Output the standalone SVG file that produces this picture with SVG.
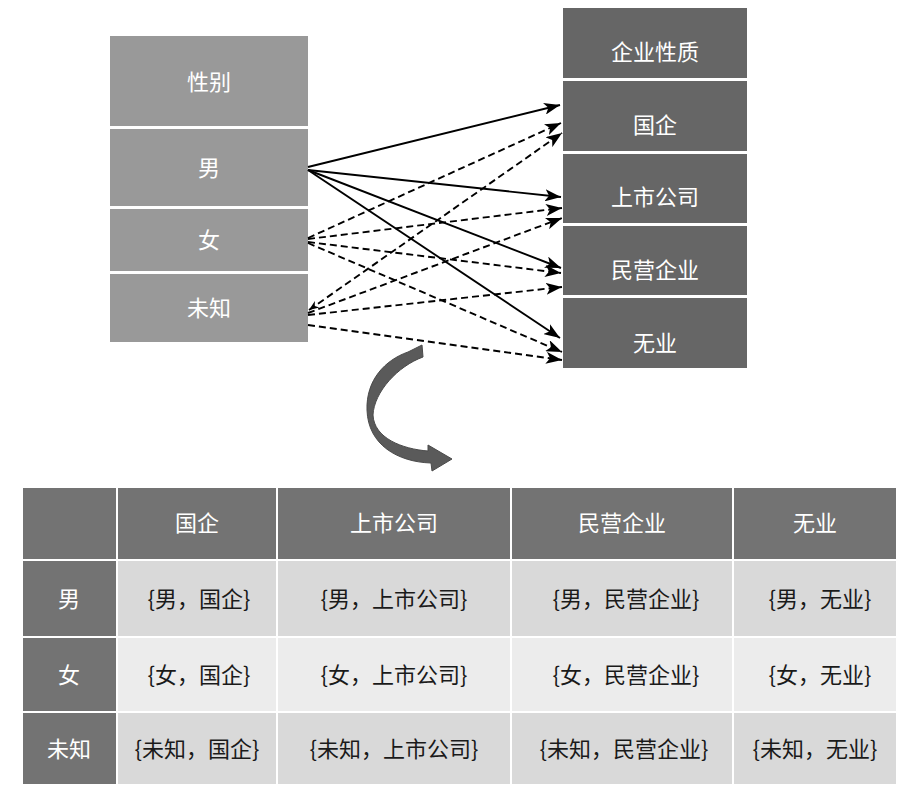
<svg xmlns="http://www.w3.org/2000/svg" width="912" height="802" viewBox="0 0 912 802">
<style>
.t{font-family:"Noto Sans CJK SC","Noto Sans",sans-serif;text-anchor:middle}
.w{fill:#ffffff;font-size:22px}
.d{fill:#1a1a1a;font-size:22px}
.lb{fill:#999999}
.rb{fill:#666666}
.hd{fill:#737373;stroke:#ffffff;stroke-width:2}
.c1{fill:#d9d9d9;stroke:#ffffff;stroke-width:2}
.c2{fill:#ececec;stroke:#ffffff;stroke-width:2}
.s{stroke:#000;stroke-width:1.9;fill:none}
.ds{stroke:#000;stroke-width:1.9;fill:none;stroke-dasharray:7 4}
</style>
<defs>
<marker id="ah" markerUnits="userSpaceOnUse" markerWidth="18" markerHeight="12" refX="16" refY="6" orient="auto">
<path d="M0,0 L16,6 L0,12 L4,6 Z" fill="#000"/>
</marker>
<marker id="as" markerUnits="userSpaceOnUse" markerWidth="12" markerHeight="10" refX="1" refY="4" orient="auto">
<path d="M11,0 L1,4 L11,8 L8,4 Z" fill="#000"/>
</marker>
</defs>
<rect width="912" height="802" fill="#ffffff"/>
<g id="left-nodes">
<g id="n-gender"><rect class="lb" x="110" y="36" width="198" height="90"/><text class="t w" x="209" y="90">性别</text></g>
<g id="n-male"><rect class="lb" x="110" y="129" width="198" height="77"/><text class="t w" x="209" y="176">男</text></g>
<g id="n-female"><rect class="lb" x="110" y="209" width="198" height="62"/><text class="t w" x="209" y="248">女</text></g>
<g id="n-unknown"><rect class="lb" x="110" y="274" width="198" height="68"/><text class="t w" x="209" y="316">未知</text></g>
</g>
<g id="right-nodes">
<g id="n-type"><rect class="rb" x="563" y="8" width="184" height="70"/><text class="t w" x="655" y="60">企业性质</text></g>
<g id="n-soe"><rect class="rb" x="563" y="81" width="184" height="70"/><text class="t w" x="655" y="133">国企</text></g>
<g id="n-listed"><rect class="rb" x="563" y="154" width="184" height="69"/><text class="t w" x="655" y="205">上市公司</text></g>
<g id="n-private"><rect class="rb" x="563" y="226" width="184" height="69"/><text class="t w" x="655" y="278">民营企业</text></g>
<g id="n-none"><rect class="rb" x="563" y="298" width="184" height="70"/><text class="t w" x="655" y="351">无业</text></g>
</g>
<g id="connectors">
<line class="s" x1="308" y1="167" x2="560" y2="105" marker-end="url(#ah)"/>
<line class="s" x1="308" y1="170" x2="561" y2="197" marker-end="url(#ah)"/>
<line class="s" x1="308" y1="170" x2="561" y2="268" marker-end="url(#ah)"/>
<line class="s" x1="308" y1="170" x2="560" y2="338" marker-end="url(#ah)"/>
<line class="ds" x1="308" y1="238" x2="561" y2="123" marker-end="url(#ah)"/>
<line class="ds" x1="308" y1="239" x2="562" y2="208" marker-end="url(#ah)"/>
<line class="ds" x1="308" y1="242" x2="561" y2="273" marker-end="url(#ah)"/>
<line class="ds" x1="308" y1="243" x2="562" y2="352" marker-end="url(#ah)"/>
<line class="ds" x1="309" y1="310" x2="562" y2="133" marker-start="url(#as)" marker-end="url(#ah)"/>
<line class="ds" x1="308" y1="313" x2="562" y2="218" marker-end="url(#ah)"/>
<line class="ds" x1="308" y1="315" x2="562" y2="287" marker-end="url(#ah)"/>
<line class="ds" x1="308" y1="325" x2="562" y2="360" marker-end="url(#ah)"/>
</g>
<g id="curved-arrow">
<path d="M422,345 L423,357 C398,366 374,392 373,415 C374,438 402,449 428,451 L428,445 L452,459 L432,471 L431,463 C398,462 368,445 367,410 C366,380 385,360 408,352 Z" fill="#5a5a5a" stroke="#4a4a4a" stroke-width="1"/>
</g>
<g id="table">
<g id="header-row">
<rect class="hd" x="22" y="487" width="95" height="73"/>
<rect class="hd" x="117" y="487" width="160" height="73"/>
<text class="t w" x="197" y="531">国企</text>
<rect class="hd" x="277" y="487" width="234" height="73"/>
<text class="t w" x="394" y="531">上市公司</text>
<rect class="hd" x="511" y="487" width="222" height="73"/>
<text class="t w" x="622" y="531">民营企业</text>
<rect class="hd" x="733" y="487" width="164" height="73"/>
<text class="t w" x="815" y="531">无业</text>
</g>
<g id="row-male">
<rect class="hd" x="22" y="560" width="95" height="77"/>
<text class="t w" x="69" y="607">男</text>
<rect class="c1" x="117" y="560" width="160" height="77"/>
<text class="t d" x="199" y="607">{男，国企}</text>
<rect class="c1" x="277" y="560" width="234" height="77"/>
<text class="t d" x="394" y="607">{男，上市公司}</text>
<rect class="c1" x="511" y="560" width="222" height="77"/>
<text class="t d" x="626" y="607">{男，民营企业}</text>
<rect class="c1" x="733" y="560" width="164" height="77"/>
<text class="t d" x="820" y="607">{男，无业}</text>
</g>
<g id="row-female">
<rect class="hd" x="22" y="637" width="95" height="75"/>
<text class="t w" x="69" y="683">女</text>
<rect class="c2" x="117" y="637" width="160" height="75"/>
<text class="t d" x="199" y="683">{女，国企}</text>
<rect class="c2" x="277" y="637" width="234" height="75"/>
<text class="t d" x="394" y="683">{女，上市公司}</text>
<rect class="c2" x="511" y="637" width="222" height="75"/>
<text class="t d" x="626" y="683">{女，民营企业}</text>
<rect class="c2" x="733" y="637" width="164" height="75"/>
<text class="t d" x="820" y="683">{女，无业}</text>
</g>
<g id="row-unknown">
<rect class="hd" x="22" y="712" width="95" height="73"/>
<text class="t w" x="69" y="757">未知</text>
<rect class="c1" x="117" y="712" width="160" height="73"/>
<text class="t d" x="197" y="757">{未知，国企}</text>
<rect class="c1" x="277" y="712" width="234" height="73"/>
<text class="t d" x="394" y="757">{未知，上市公司}</text>
<rect class="c1" x="511" y="712" width="222" height="73"/>
<text class="t d" x="624" y="757">{未知，民营企业}</text>
<rect class="c1" x="733" y="712" width="164" height="73"/>
<text class="t d" x="815" y="757">{未知，无业}</text>
</g>
</g>
</svg>
